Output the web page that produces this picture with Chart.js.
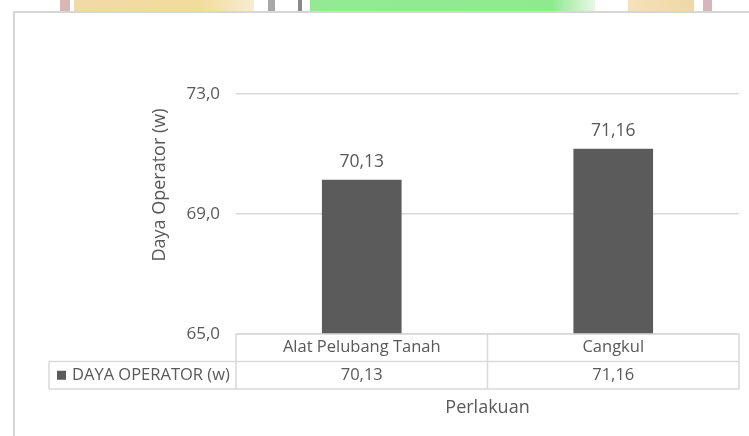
<!DOCTYPE html>
<html>
<head>
<meta charset="utf-8">
<script src="https://cdn.jsdelivr.net/npm/chart.js@4"></script>
<style>
  html, body { margin: 0; padding: 0; background: #fff; overflow: hidden; }
  #page { position: relative; width: 749px; height: 436px; }
  .strip { position: absolute; top: 0; height: 12px; }
  #frame {
    position: absolute; left: 13px; top: 11px; width: 800px; height: 500px;
    border: 2px solid #d6d6d6; background: #fff; box-sizing: border-box;
  }
  #wrap { position: absolute; left: 0; top: 0; width: 749px; height: 436px; }
</style>
</head>
<body>
<div id="page">
  <!-- bits of the page behind the chart -->
  <div class="strip" style="left:60px;width:10px;background:#d9b7b5"></div>
  <div class="strip" style="left:74px;width:180px;background:linear-gradient(90deg,#f3d9a6,#f2dc9c 70%,#f7ecd0)"></div>
  <div class="strip" style="left:268px;width:7px;background:#a8a8a8"></div>
  <div class="strip" style="left:298px;width:4px;background:#8a8a8a"></div>
  <div class="strip" style="left:310px;width:285px;background:linear-gradient(90deg,#93ea93,#8fea8f 85%,#e8f8e4)"></div>
  <div class="strip" style="left:628px;width:66px;background:linear-gradient(90deg,#f6e2b8,#efd7a6)"></div>
  <div class="strip" style="left:703px;width:9px;background:#d7b6ba"></div>
  <div id="frame"></div>
  <div id="wrap"><canvas id="chart" width="749" height="436"></canvas></div>
</div>
<script>
const categories = ['Alat Pelubang Tanah', 'Cangkul'];
const dayaOperator = [70.13, 71.16];
const seriesName = 'DAYA OPERATOR (w)';
const yTitle = 'Daya Operator (w)';
const xTitle = 'Perlakuan';
const yMin = 65;
const yMax = 73;
const yStep = 4;

const TEXT = '#595959';
const LINE = '#d9d9d9';
const BAR = '#5b5b5b';
const FONT = '"Open Sans", sans-serif';

const fmt = (v, d) => v.toFixed(d).replace('.', ',');

// value labels, y title, data table and x title
const extras = {
  id: 'extras',
  afterDraw(chart) {
    const ctx = chart.ctx;
    const area = chart.chartArea;
    const x = chart.scales.x;
    const meta = chart.getDatasetMeta(0);
    ctx.save();
    ctx.fillStyle = TEXT;
    ctx.textAlign = 'center';
    ctx.textBaseline = 'middle';

    ctx.font = '17.5px ' + FONT;
    meta.data.forEach((bar, i) => {
      ctx.fillText(fmt(dayaOperator[i], 2), bar.x, bar.y - 18);
    });

    // y title
    ctx.save();
    ctx.font = '18px ' + FONT;
    ctx.translate(160, 185);
    ctx.rotate(-Math.PI / 2);
    ctx.fillText(yTitle, 0, 0);
    ctx.restore();

    // table
    const row0 = area.bottom;
    const row1 = row0 + 27.5;
    const row2 = row1 + 27.5;
    const legLeft = 49;
    const cols = [area.left];
    for (let i = 0; i < categories.length - 1; i++) {
      cols.push((x.getPixelForValue(i) + x.getPixelForValue(i + 1)) / 2);
    }
    cols.push(area.right);

    ctx.strokeStyle = LINE;
    ctx.lineWidth = 1.5;
    ctx.beginPath();
    ctx.moveTo(area.left, row0); ctx.lineTo(area.right, row0);
    ctx.moveTo(legLeft, row1); ctx.lineTo(area.right, row1);
    ctx.moveTo(legLeft, row2); ctx.lineTo(area.right, row2);
    ctx.moveTo(legLeft, row1); ctx.lineTo(legLeft, row2);
    cols.forEach(c => { ctx.moveTo(c, row0); ctx.lineTo(c, row2); });
    ctx.stroke();

    ctx.font = '16.5px ' + FONT;
    categories.forEach((c, i) => {
      const cx = x.getPixelForValue(i);
      ctx.fillText(c, cx, (row0 + row1) / 2);
      ctx.fillText(fmt(dayaOperator[i], 2), cx, (row1 + row2) / 2);
    });

    ctx.fillStyle = BAR;
    ctx.fillRect(57, (row1 + row2) / 2 - 4.5, 9, 9);
    ctx.fillStyle = TEXT;
    ctx.textAlign = 'left';
    ctx.fillText(seriesName, 72, (row1 + row2) / 2);

    ctx.textAlign = 'center';
    ctx.font = '18px ' + FONT;
    ctx.fillText(xTitle, (area.left + area.right) / 2, row2 + 19);
    ctx.restore();
  }
};

new Chart(document.getElementById('chart'), {
  type: 'bar',
  data: {
    labels: categories,
    datasets: [{
      label: seriesName,
      data: dayaOperator,
      backgroundColor: BAR,
      borderWidth: 0,
      barThickness: 79
    }]
  },
  options: {
    responsive: false,
    animation: false,
    layout: { padding: { left: 150, right: 10, top: 94, bottom: 102 } },
    plugins: {
      legend: { display: false },
      tooltip: { enabled: false }
    },
    scales: {
      x: { display: false },
      y: {
        min: yMin,
        max: yMax,
        border: { display: false },
        grid: { color: LINE, lineWidth: 1.5, drawTicks: false },
        ticks: {
          stepSize: yStep,
          padding: 16,
          color: TEXT,
          font: { family: FONT, size: 17 },
          callback: v => fmt(v, 1)
        },
        afterFit(scale) { scale.width = 86; }
      }
    }
  },
  plugins: [extras]
});
</script>
</body>
</html>
